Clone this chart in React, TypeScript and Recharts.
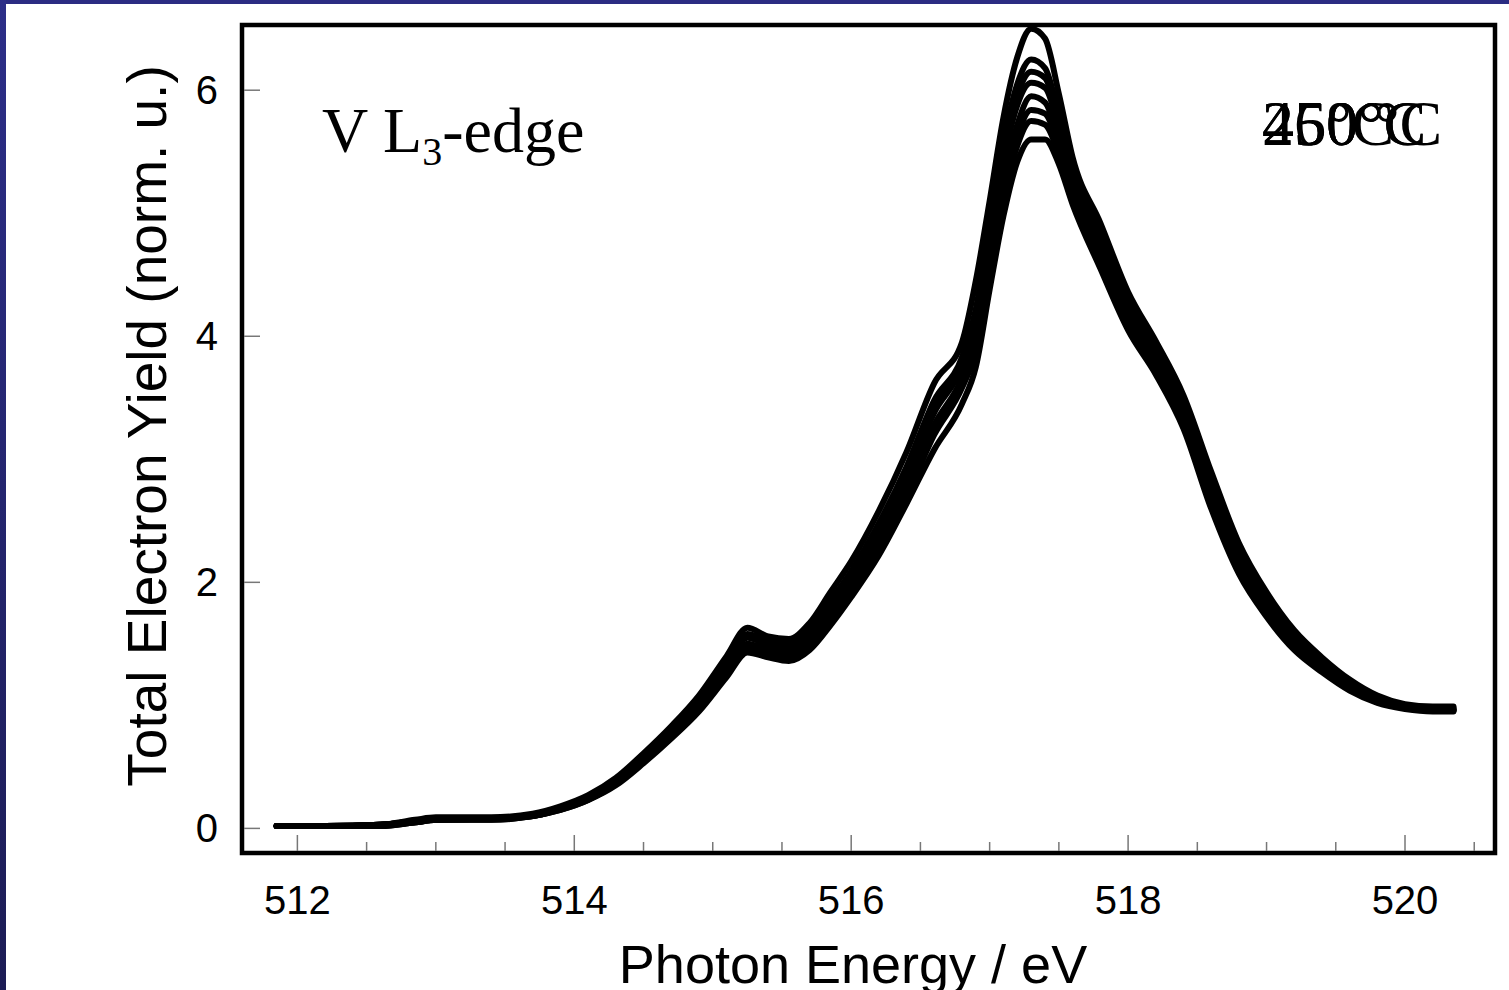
import { LineChart, Line, XAxis, YAxis, ReferenceArea } from 'recharts'

// photon energy grid (eV)
const energy = [
  511.85, 512.2, 512.6, 512.85, 513.0, 513.4, 513.7, 513.9, 514.1, 514.3, 514.5, 514.7, 514.9, 515.1, 515.25,
  515.4, 515.55, 515.7, 515.85, 516.0, 516.2, 516.4, 516.6, 516.8, 516.9, 517.0, 517.1, 517.2, 517.3, 517.4,
  517.5, 517.6, 517.8, 518.0, 518.2, 518.4, 518.6, 518.8, 519.0, 519.2, 519.4, 519.6, 519.8, 520.0, 520.2, 520.35,
]

// TEY spectra, one per temperature step
const scan1 = [
  0.02, 0.02, 0.03, 0.07, 0.09, 0.09, 0.12, 0.18, 0.27, 0.41, 0.61, 0.83, 1.08, 1.4, 1.63,
  1.56, 1.54, 1.67, 1.92, 2.17, 2.58, 3.06, 3.62, 3.95, 4.45, 5.1, 5.78, 6.27, 6.5, 6.42,
  5.97, 5.45, 4.92, 4.36, 3.96, 3.52, 2.9, 2.32, 1.92, 1.61, 1.39, 1.21, 1.08, 1.01, 0.99, 0.99,
]
const scan2 = [
  0.02, 0.02, 0.03, 0.06, 0.08, 0.08, 0.11, 0.17, 0.26, 0.39, 0.59, 0.8, 1.05, 1.36, 1.58,
  1.52, 1.5, 1.62, 1.85, 2.09, 2.48, 2.94, 3.48, 3.83, 4.22, 4.9, 5.58, 6.05, 6.25, 6.18,
  5.8, 5.35, 4.84, 4.29, 3.9, 3.46, 2.83, 2.26, 1.87, 1.57, 1.36, 1.18, 1.06, 1.0, 0.98, 0.98,
]
const scan3 = [
  0.02, 0.02, 0.03, 0.06, 0.08, 0.08, 0.11, 0.17, 0.25, 0.38, 0.58, 0.79, 1.03, 1.34, 1.56,
  1.5, 1.48, 1.59, 1.82, 2.05, 2.44, 2.89, 3.43, 3.79, 4.16, 4.82, 5.5, 5.96, 6.15, 6.1,
  5.75, 5.31, 4.8, 4.25, 3.87, 3.43, 2.8, 2.23, 1.85, 1.55, 1.34, 1.17, 1.05, 0.99, 0.97, 0.97,
]
const scan4 = [
  0.02, 0.02, 0.03, 0.06, 0.08, 0.08, 0.11, 0.17, 0.25, 0.38, 0.57, 0.78, 1.02, 1.32, 1.55,
  1.49, 1.46, 1.57, 1.79, 2.02, 2.4, 2.85, 3.38, 3.75, 4.1, 4.75, 5.42, 5.88, 6.06, 6.02,
  5.7, 5.28, 4.76, 4.22, 3.84, 3.4, 2.77, 2.21, 1.83, 1.54, 1.33, 1.16, 1.05, 0.99, 0.97, 0.97,
]
const scan5 = [
  0.02, 0.02, 0.03, 0.05, 0.07, 0.08, 0.1, 0.16, 0.24, 0.37, 0.55, 0.76, 0.99, 1.28, 1.5,
  1.45, 1.42, 1.53, 1.74, 1.97, 2.33, 2.77, 3.28, 3.66, 3.98, 4.6, 5.25, 5.72, 5.95, 5.9,
  5.6, 5.2, 4.7, 4.17, 3.79, 3.35, 2.72, 2.17, 1.79, 1.51, 1.31, 1.15, 1.04, 0.98, 0.96, 0.96,
]
const scan6 = [
  0.02, 0.02, 0.03, 0.05, 0.07, 0.08, 0.1, 0.16, 0.24, 0.36, 0.55, 0.75, 0.98, 1.26, 1.48,
  1.43, 1.4, 1.5, 1.71, 1.94, 2.3, 2.73, 3.24, 3.62, 3.93, 4.54, 5.18, 5.63, 5.84, 5.81,
  5.54, 5.16, 4.66, 4.14, 3.77, 3.32, 2.69, 2.14, 1.77, 1.5, 1.3, 1.14, 1.03, 0.98, 0.96, 0.96,
]
const scan7 = [
  0.02, 0.02, 0.02, 0.05, 0.07, 0.07, 0.1, 0.15, 0.23, 0.36, 0.54, 0.74, 0.97, 1.25, 1.46,
  1.41, 1.38, 1.48, 1.69, 1.92, 2.27, 2.7, 3.2, 3.58, 3.88, 4.48, 5.1, 5.55, 5.75, 5.72,
  5.48, 5.12, 4.62, 4.11, 3.74, 3.3, 2.66, 2.12, 1.76, 1.48, 1.29, 1.13, 1.03, 0.98, 0.96, 0.96,
]
const scan8 = [
  0.02, 0.02, 0.02, 0.05, 0.07, 0.07, 0.1, 0.15, 0.23, 0.35, 0.53, 0.73, 0.95, 1.23, 1.43,
  1.39, 1.36, 1.45, 1.65, 1.88, 2.22, 2.64, 3.08, 3.45, 3.75, 4.38, 4.98, 5.42, 5.6, 5.6,
  5.4, 5.07, 4.55, 4.05, 3.69, 3.25, 2.6, 2.07, 1.72, 1.45, 1.27, 1.12, 1.02, 0.97, 0.95, 0.95,
]
const scans = [scan1, scan2, scan3, scan4, scan5, scan6, scan7, scan8]

const xTicks = [512, 512.5, 513, 513.5, 514, 514.5, 515, 515.5, 516, 516.5, 517, 517.5, 518, 518.5, 519, 519.5, 520, 520.5]
const yTicks = [0, 2, 4, 6]
// temperature captions are stacked on the same spot
const tempLabels = ['25°C', '250°C', '450°C', '460 °C']

const X_DOMAIN: [number, number] = [511.6, 520.65]
const Y_DOMAIN: [number, number] = [-0.2, 6.53]

const data = energy.map((e, i) => {
  const row: Record<string, number> = { e }
  scans.forEach((s, k) => (row['s' + k] = s[i]))
  return row
})

const sans = '"Liberation Sans", Arial, sans-serif'
const serif = '"Liberation Serif", "Times New Roman", serif'

function XTick(props: any) {
  const { x, y, payload } = props
  const v = payload.value as number
  const major = v % 2 === 0
  const len = major ? 16 : 9
  return (
    <g>
      <line x1={x} x2={x} y1={y - 2} y2={y - 2 - len} stroke="#777" strokeWidth={1.5} />
      {major && (
        <text x={x} y={y + 47} textAnchor="middle" dominantBaseline="central" fontFamily={sans} fontSize={40} fill="#000">
          {v}
        </text>
      )}
    </g>
  )
}

function YTick(props: any) {
  const { x, y, payload } = props
  return (
    <g>
      <line x1={x + 2} x2={x + 18} y1={y} y2={y} stroke="#777" strokeWidth={1.5} />
      <text x={x - 24} y={y} textAnchor="end" dominantBaseline="central" fontFamily={sans} fontSize={40} fill="#000">
        {payload.value}
      </text>
    </g>
  )
}

export default function App() {
  return (
    <div style={{ position: 'absolute', left: 0, top: 0, width: 1509, height: 990, background: '#fff', overflow: 'hidden' }}>
      <div style={{ position: 'absolute', left: 0, top: 0, width: 1509, height: 4, background: '#2b2c82' }} />
      <div style={{ position: 'absolute', left: 0, top: 0, width: 6, height: 990, background: 'linear-gradient(#2c2e88, #1c1c55)' }} />
      <LineChart width={1509} height={990} data={data} margin={{ top: 25, right: 14, bottom: 0, left: 0 }}>
        <XAxis
          dataKey="e"
          type="number"
          domain={X_DOMAIN}
          ticks={xTicks}
          allowDataOverflow
          height={137}
          axisLine={false}
          tickLine={false}
          tickSize={0}
          tickMargin={0}
          tick={<XTick />}
          interval={0}
        />
        <YAxis
          type="number"
          domain={Y_DOMAIN}
          ticks={yTicks}
          allowDataOverflow
          width={242}
          axisLine={false}
          tickLine={false}
          tickSize={0}
          tickMargin={0}
          tick={<YTick />}
          interval={0}
        />
        {scans.map((_, k) => (
          <Line
            key={k}
            dataKey={'s' + k}
            type="monotone"
            stroke="#000"
            strokeWidth={6}
            strokeLinecap="round"
            strokeLinejoin="round"
            dot={false}
            isAnimationActive={false}
          />
        ))}
        <ReferenceArea
          x1={X_DOMAIN[0]}
          x2={X_DOMAIN[1]}
          y1={Y_DOMAIN[0]}
          y2={Y_DOMAIN[1]}
          fill="none"
          stroke="#000"
          strokeWidth={4.5}
          ifOverflow="extendDomain"
        />
        <text x={322} y={152} fontFamily={serif} fontSize={64} fill="#000">
          V L<tspan fontSize={40} dy={13}>3</tspan>
          <tspan dy={-13}>-edge</tspan>
        </text>
        {tempLabels.map((t) => (
          <text key={t} x={1262} y={145} fontFamily={serif} fontSize={64} fill="#000">
            {t}
          </text>
        ))}
        <text x={853} y={964} textAnchor="middle" dominantBaseline="central" fontFamily={sans} fontSize={54} fill="#000">
          Photon Energy / eV
        </text>
        <text
          x={147}
          y={426}
          transform="rotate(-90, 147, 426)"
          textAnchor="middle"
          dominantBaseline="central"
          fontFamily={sans}
          fontSize={55}
          fill="#000"
        >
          Total Electron Yield (norm. u.)
        </text>
      </LineChart>
    </div>
  )
}
